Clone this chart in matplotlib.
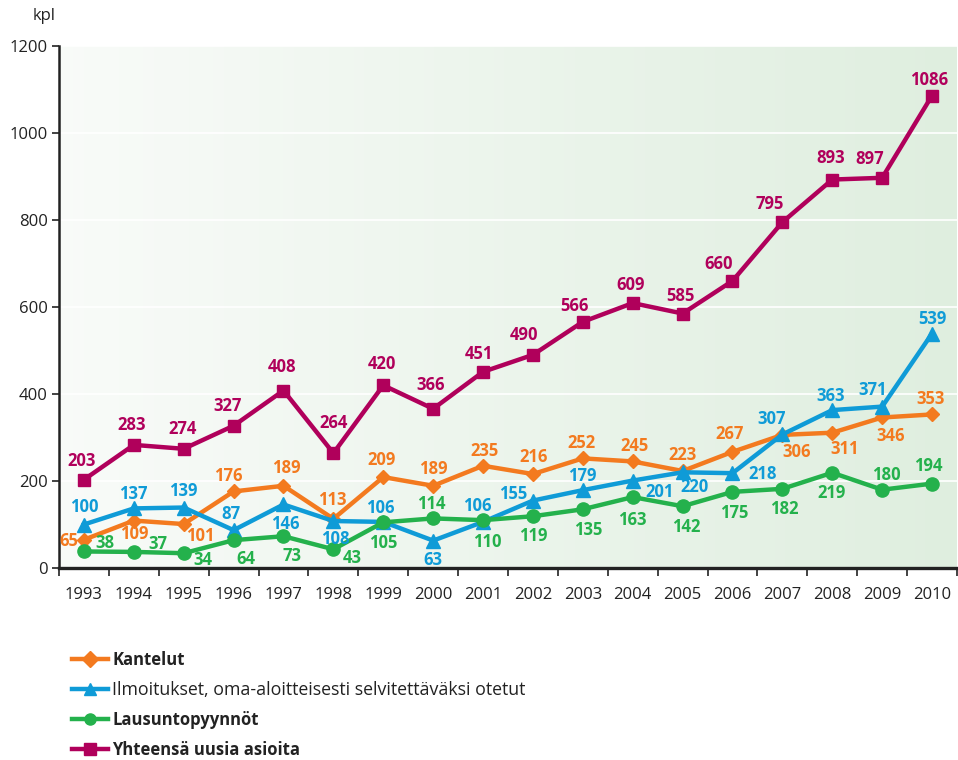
import matplotlib

matplotlib.use("Agg")
import matplotlib.pyplot as plt
import numpy as np
from matplotlib.ticker import FixedLocator

plt.rcParams["font.family"] = ["Open Sans", "DejaVu Sans"]

years = list(range(1993, 2011))
kantelut = [65, 109, 101, 176, 189, 113, 209, 189, 235, 216, 252, 245, 223, 267, 306, 311, 346, 353]
ilmoitukset = [100, 137, 139, 87, 146, 108, 106, 63, 106, 155, 179, 201, 220, 218, 307, 363, 371, 539]
lausunnot = [38, 37, 34, 64, 73, 43, 105, 114, 110, 119, 135, 163, 142, 175, 182, 219, 180, 194]
yhteensa = [203, 283, 274, 327, 408, 264, 420, 366, 451, 490, 566, 609, 585, 660, 795, 893, 897, 1086]

# where each value label sits relative to its marker: (dx, dy) in pixels, dy up
lab_kant = [(-15, 0), (0, -12), (17, -11), (-5, 16), (3, 19), (-1, 20), (-2, 18), (0, 18), (1, 16),
            (1, 18), (-1, 16), (2, 16), (0, 17), (-3, 19), (14, -16), (12, -15), (8, -18), (-1, 16)]
lab_ilm = [(0, 18), (-1, 15), (0, 18), (-3, 17), (2, -19), (2, -17), (-3, 15), (0, -18), (-6, 17),
           (-20, 8), (-1, 15), (27, -10), (12, -14), (30, 0), (-11, 16), (-2, 15), (-10, 18), (0, 16)]
lab_lau = [(21, 9), (24, 9), (19, -6), (12, -18), (9, -19), (19, -8), (0, -20), (-2, 15), (4, -21),
           (0, -19), (5, -20), (0, -22), (4, -20), (2, -20), (2, -19), (-1, -19), (4, 16), (-4, 19)]
lab_yht = [(-2, 20), (-2, 21), (-1, 21), (-6, 21), (-1, 25), (0, 31), (-1, 22), (-3, 25), (-4, 19),
           (-9, 21), (-8, 17), (-2, 19), (-2, 19), (-14, 18), (-13, 19), (-2, 23), (-12, 20), (-3, 17)]

series = [
    ("Kantelut", kantelut, "#f37a1f", "D", 7.5, "bold", lab_kant),
    ("Ilmoitukset, oma-aloitteisesti selvitettäväksi otetut", ilmoitukset, "#0f9bd7", "^", 10, "normal", lab_ilm),
    ("Lausuntopyynnöt", lausunnot, "#24b14c", "o", 9.5, "bold", lab_lau),
    ("Yhteensä uusia asioita", yhteensa, "#b0005b", "s", 9, "bold", lab_yht),
]

fig = plt.figure(figsize=(9.58, 7.6), dpi=100)
ax = fig.add_axes([59 / 958, 192 / 760, 898 / 958, 522 / 760])

x = np.arange(len(years))
ax.set_xlim(-0.5, len(years) - 0.5)
ax.set_ylim(0, 1200)

# soft green gradient behind the plot area
grad = np.linspace(0, 1, 256).reshape(1, -1)
c0 = np.array([0.975, 0.985, 0.975])
c1 = np.array([0.875, 0.935, 0.875])
img = c0 + (c1 - c0) * grad[..., None]
ax.imshow(img, extent=[-0.5, len(years) - 0.5, 0, 1200], aspect="auto", zorder=0)

for yv in range(200, 1201, 200):
    ax.axhline(yv, color="white", linewidth=1.2, zorder=1)

px = 72 / fig.dpi  # points per pixel
cap = 6  # half the digit height, pixels

handles = []
for name, vals, color, marker, ms, weight, offs in series:
    h, = ax.plot(x, vals, color=color, linewidth=3.2, marker=marker, markersize=ms,
                 label=name, zorder=3, clip_on=False)
    handles.append(h)
    for xi, v, (dx, dy) in zip(x, vals, offs):
        ax.annotate(str(v), (xi, v), xytext=(dx * px, (dy - cap) * px), textcoords="offset points",
                    ha="center", va="baseline", color=color, fontsize=12, fontweight="bold",
                    zorder=4)

for s in ["top", "right"]:
    ax.spines[s].set_visible(False)
ax.spines["left"].set_linewidth(1.8)
ax.spines["left"].set_color("#222222")
ax.spines["bottom"].set_linewidth(2.4)
ax.spines["bottom"].set_color("#222222")

ax.set_yticks(range(0, 1201, 200))
ax.tick_params(axis="y", length=5, width=1.2, color="#222222", labelsize=12, pad=3,
               labelcolor="#222222")
ax.set_xticks(x)
ax.set_xticklabels([str(y) for y in years])
ax.tick_params(axis="x", which="major", length=0, labelsize=12, pad=14, labelcolor="#222222")
ax.xaxis.set_minor_locator(FixedLocator(np.arange(-0.5, len(years), 1.0)))
ax.tick_params(axis="x", which="minor", length=6, width=1.2, color="#222222")

fig.text(33 / 958, 1 - 16 / 760, "kpl", fontsize=12, ha="left", va="center", color="#222222")

leg = fig.legend(handles=handles, loc="upper left", bbox_to_anchor=(65 / 958, 1 - 644 / 760),
                 frameon=False, fontsize=12, handlelength=2.15, handletextpad=0.3,
                 labelspacing=0.72, borderaxespad=0)
for t, s in zip(leg.get_texts(), series):
    t.set_fontweight(s[5])
    t.set_color("#222222")
    if s[5] == "normal":
        t.set_fontsize(12.8)
for lh in leg.legend_handles:
    lh.set_markersize(8)

fig.savefig("out.png", dpi=100)
